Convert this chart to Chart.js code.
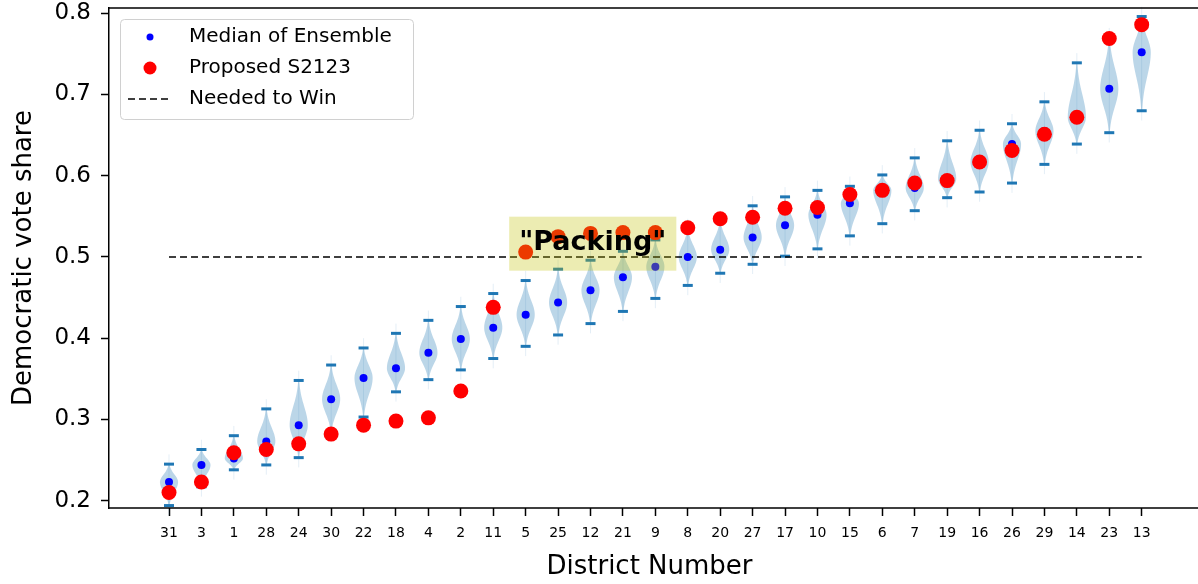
<!DOCTYPE html>
<html>
<head>
<meta charset="utf-8">
<script src="https://cdn.jsdelivr.net/npm/chart.js@4.4.1/dist/chart.umd.min.js"></script>
<style>
  html, body { margin: 0; padding: 0; background: #fff; overflow: hidden; }
  #wrap { width: 1198px; height: 584px; overflow: hidden; }
  canvas { display: block; }
</style>
</head>
<body>
<div id="wrap"><canvas id="districtChart" width="1198" height="584" style="width:1198px;height:584px"></canvas></div>
<script>
// District order, sorted by ensemble median
const districts = [31, 3, 1, 28, 24, 30, 22, 18, 4, 2, 11, 5, 25, 12, 21, 9, 8, 20, 27, 17, 10, 15, 6, 7, 19, 16, 26, 29, 14, 23, 13];

// Median of the ensemble for each district
const ensembleMedian = [0.223, 0.244, 0.252, 0.273, 0.293, 0.325, 0.351, 0.363, 0.382, 0.399, 0.413, 0.429, 0.444, 0.459, 0.475, 0.488,
    0.500, 0.509, 0.524, 0.539, 0.552, 0.566, 0.582, 0.585, 0.596, 0.617, 0.639, 0.655, 0.672, 0.707, 0.752];

// Proposed S2123 plan vote share
const proposed = [0.210, 0.223, 0.259, 0.263, 0.270, 0.282, 0.293, 0.298, 0.302, 0.335, 0.438, 0.506, 0.525, 0.529, 0.530, 0.530,
    0.536, 0.547, 0.549, 0.560, 0.561, 0.577, 0.582, 0.591, 0.594, 0.617, 0.631, 0.651, 0.672, 0.769, 0.786];

// Extremes of the ensemble (violin ends)
const ensembleMax = [0.245, 0.263, 0.280, 0.313, 0.348, 0.367, 0.388, 0.406, 0.422, 0.439, 0.455, 0.471, 0.485, 0.496, 0.507, 0.521,
    0.535, 0.545, 0.563, 0.574, 0.582, 0.587, 0.601, 0.622, 0.643, 0.656, 0.664, 0.691, 0.739, 0.770, 0.796];
const ensembleMin = [0.194, 0.217, 0.238, 0.244, 0.253, 0.284, 0.303, 0.334, 0.349, 0.361, 0.375, 0.390, 0.404, 0.418, 0.433, 0.449,
    0.465, 0.480, 0.491, 0.501, 0.510, 0.526, 0.541, 0.557, 0.573, 0.580, 0.591, 0.614, 0.639, 0.653, 0.680];

const yTicks = [0.2, 0.3, 0.4, 0.5, 0.6, 0.7, 0.8];
const neededToWin = 0.5;
const annotationText = '"Packing"';
const annotationAt = { x: 11.8, y: 0.509 };

const FONT = "'DejaVu Sans', sans-serif";
const positions = districts.map((d, i) => i + 1);

// Draw the violins behind the points, using the chart scales
const violinPlugin = {
    id: 'violins',
    beforeDatasetsDraw(chart) {
        const { ctx, scales: { x, y } } = chart;
        const unit = x.getPixelForValue(2) - x.getPixelForValue(1);
        const halfW = 0.28 * unit;
        ctx.save();
        positions.forEach((p, i) => {
            const lo = ensembleMin[i], hi = ensembleMax[i], med = ensembleMedian[i];
            const sLo = Math.max(med - lo, 0.004) / 2.4;
            const sHi = Math.max(hi - med, 0.004) / 2.4;
            const cx = x.getPixelForValue(p);
            // faint whisker through the violin
            ctx.strokeStyle = 'rgba(31,119,180,0.12)';
            ctx.lineWidth = 1;
            ctx.beginPath();
            ctx.moveTo(cx, y.getPixelForValue(lo - 0.012));
            ctx.lineTo(cx, y.getPixelForValue(hi + 0.012));
            ctx.stroke();
            const n = 40;
            const pts = [];
            for (let k = 0; k <= n; k++) {
                const v = lo + (hi - lo) * k / n;
                const s = v < med ? sLo : sHi;
                const w = halfW * Math.exp(-0.5 * Math.pow((v - med) / s, 2));
                pts.push([y.getPixelForValue(v), w]);
            }
            ctx.fillStyle = 'rgba(31,119,180,0.3)';
            ctx.beginPath();
            pts.forEach(([py, w], k) => k === 0 ? ctx.moveTo(cx + w, py) : ctx.lineTo(cx + w, py));
            for (let k = pts.length - 1; k >= 0; k--) ctx.lineTo(cx - pts[k][1], pts[k][0]);
            ctx.closePath();
            ctx.fill();
        });
        ctx.restore();
    },
    afterDatasetsDraw(chart) {
        const { ctx, scales: { x, y }, chartArea } = chart;
        ctx.save();
        // top and bottom spines, running to the canvas edge
        ctx.strokeStyle = '#000';
        ctx.lineWidth = 1.5;
        ctx.beginPath();
        ctx.moveTo(chartArea.left - 0.75, chartArea.top);
        ctx.lineTo(chart.width, chartArea.top);
        ctx.moveTo(chartArea.left - 0.75, chartArea.bottom);
        ctx.lineTo(chart.width, chartArea.bottom);
        ctx.stroke();

        // "Packing" annotation
        ctx.font = `bold 27px ${FONT}`;
        ctx.textBaseline = 'alphabetic';
        const tx = x.getPixelForValue(annotationAt.x);
        const ty = y.getPixelForValue(annotationAt.y);
        const tw = ctx.measureText(annotationText).width;
        ctx.fillStyle = 'rgba(191,191,0,0.3)';
        ctx.fillRect(tx - 10, ty - 33, tw + 20, 54);
        ctx.fillStyle = '#000';
        ctx.fillText(annotationText, tx, ty);

        // legend
        const lx = chartArea.left + 11, ly = chartArea.top + 11, lw = 293, lh = 100;
        ctx.fillStyle = 'rgba(255,255,255,0.8)';
        ctx.strokeStyle = '#d0d0d0';
        ctx.lineWidth = 1;
        ctx.beginPath();
        ctx.roundRect(lx + 0.5, ly + 0.5, lw, lh, 4);
        ctx.fill();
        ctx.stroke();
        const rows = [29, 60, 91].map(r => chartArea.top + r);
        ctx.fillStyle = 'blue';
        ctx.beginPath();
        ctx.arc(lx + 30, rows[0], 3.5, 0, Math.PI * 2);
        ctx.fill();
        ctx.fillStyle = 'red';
        ctx.beginPath();
        ctx.arc(lx + 30, rows[1], 6.5, 0, Math.PI * 2);
        ctx.fill();
        ctx.strokeStyle = '#000';
        ctx.lineWidth = 1.5;
        ctx.setLineDash([7, 4]);
        ctx.beginPath();
        ctx.moveTo(lx + 8, rows[2]);
        ctx.lineTo(lx + 52, rows[2]);
        ctx.stroke();
        ctx.setLineDash([]);
        ctx.fillStyle = '#000';
        ctx.font = `20px ${FONT}`;
        ctx.textBaseline = 'middle';
        ['Median of Ensemble', 'Proposed S2123', 'Needed to Win'].forEach((t, i) => {
            ctx.fillText(t, lx + 69, rows[i]);
        });
        ctx.restore();
    }
};

const toPoints = (vals) => vals.map((v, i) => ({ x: positions[i], y: v }));

new Chart(document.getElementById('districtChart'), {
    type: 'scatter',
    data: {
        datasets: [
            {
                label: 'Proposed S2123',
                data: toPoints(proposed),
                backgroundColor: 'red',
                borderWidth: 0,
                pointRadius: 7.5,
                order: 1
            },
            {
                label: 'Median of Ensemble',
                data: toPoints(ensembleMedian),
                backgroundColor: 'blue',
                borderWidth: 0,
                pointRadius: 4,
                order: 2
            },
            {
                label: 'Needed to Win',
                type: 'line',
                data: [{ x: positions[0], y: neededToWin }, { x: positions[positions.length - 1], y: neededToWin }],
                borderColor: '#000',
                borderWidth: 1.5,
                borderDash: [7, 4],
                pointRadius: 0,
                fill: false,
                order: 3
            },
            {
                label: 'max',
                data: toPoints(ensembleMax),
                pointStyle: 'line',
                pointRadius: 5,
                borderColor: '#1f77b4',
                borderWidth: 3,
                order: 4
            },
            {
                label: 'min',
                data: toPoints(ensembleMin),
                pointStyle: 'line',
                pointRadius: 5,
                borderColor: '#1f77b4',
                borderWidth: 3,
                order: 4
            }
        ]
    },
    options: {
        responsive: false,
        animation: false,
        events: [],
        layout: { padding: { top: 7, right: 0, left: 0, bottom: 0 } },
        plugins: {
            legend: { display: false },
            tooltip: { enabled: false }
        },
        scales: {
            x: {
                type: 'linear',
                min: -0.851,
                max: 32.49,
                afterBuildTicks: (s) => { s.ticks = positions.map(v => ({ value: v })); },
                afterFit: (s) => { s.height = 76; s.paddingLeft = 0; s.paddingRight = 0; },
                ticks: {
                    autoSkip: false,
                    maxRotation: 0,
                    padding: 9,
                    color: '#000',
                    font: { family: FONT, size: 14 },
                    callback: (v) => districts[v - 1]
                },
                grid: { drawOnChartArea: false, drawTicks: true, tickLength: 8, tickWidth: 1.5, tickColor: '#000' },
                border: { display: false },
                title: {
                    display: true,
                    text: 'District Number',
                    color: '#000',
                    font: { family: FONT, size: 26 },
                    padding: { top: 4, bottom: 1 }
                }
            },
            y: {
                min: 0.191,
                max: 0.8065,
                afterBuildTicks: (s) => { s.ticks = yTicks.map(v => ({ value: v })); },
                afterFit: (s) => { s.width = 109; s.paddingTop = 0; s.paddingBottom = 0; },
                ticks: {
                    padding: 10,
                    color: '#000',
                    font: { family: FONT, size: 23 },
                    callback: (v) => v.toFixed(1)
                },
                grid: { drawOnChartArea: false, drawTicks: true, tickLength: 8, tickWidth: 1.5, tickColor: '#000' },
                border: { display: true, color: '#000', width: 1.5 },
                title: {
                    display: true,
                    text: 'Democratic vote share',
                    color: '#000',
                    font: { family: FONT, size: 26 },
                    padding: { top: 9, bottom: 4 }
                }
            }
        }
    },
    plugins: [violinPlugin]
});
</script>
</body>
</html>
